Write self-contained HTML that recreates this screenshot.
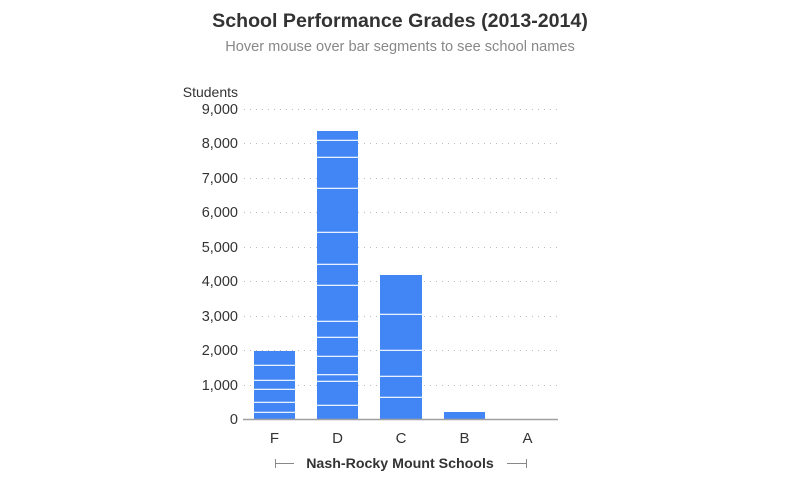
<!DOCTYPE html>
<html><head><meta charset="utf-8"><style>
html,body{margin:0;padding:0;background:#fff;width:800px;height:500px;overflow:hidden}
svg text{font-family:"Liberation Sans",Arial,sans-serif}
</style></head><body>
<svg width="800" height="500" xmlns="http://www.w3.org/2000/svg">
<text x="400" y="27" text-anchor="middle" font-size="19.6" font-weight="bold" fill="#333">School Performance Grades (2013-2014)</text>
<text x="400" y="51" text-anchor="middle" font-size="14.6" fill="#888">Hover mouse over bar segments to see school names</text>
<text x="238" y="97" text-anchor="end" font-size="14" fill="#333">Students</text>
<g stroke="#bbb" stroke-width="1" stroke-dasharray="1,5">
<line x1="244" x2="558" y1="109.5" y2="109.5"/>
<line x1="244" x2="558" y1="143.5" y2="143.5"/>
<line x1="244" x2="558" y1="178.5" y2="178.5"/>
<line x1="244" x2="558" y1="212.5" y2="212.5"/>
<line x1="244" x2="558" y1="247.5" y2="247.5"/>
<line x1="244" x2="558" y1="281.5" y2="281.5"/>
<line x1="244" x2="558" y1="316.5" y2="316.5"/>
<line x1="244" x2="558" y1="350.5" y2="350.5"/>
<line x1="244" x2="558" y1="385.5" y2="385.5"/>
</g>
<g font-size="14.5" fill="#333" text-anchor="end">
<text x="238" y="114">9,000</text>
<text x="238" y="148">8,000</text>
<text x="238" y="183">7,000</text>
<text x="238" y="217">6,000</text>
<text x="238" y="252">5,000</text>
<text x="238" y="286">4,000</text>
<text x="238" y="321">3,000</text>
<text x="238" y="355">2,000</text>
<text x="238" y="390">1,000</text>
<text x="238" y="424">0</text>
</g>
<g fill="#4285f4">
<rect x="254" y="351" width="41" height="68.5"/>
<rect x="317" y="131" width="41" height="288.5"/>
<rect x="380" y="275" width="42" height="144.5"/>
<rect x="444" y="412" width="41" height="7.5"/>
</g>
<g stroke="#fff" stroke-width="1.2">
<line x1="254" x2="295" y1="365.3" y2="365.3"/>
<line x1="254" x2="295" y1="380.3" y2="380.3"/>
<line x1="254" x2="295" y1="389.3" y2="389.3"/>
<line x1="254" x2="295" y1="402.3" y2="402.3"/>
<line x1="254" x2="295" y1="412.3" y2="412.3"/>
<line x1="317" x2="358" y1="140.3" y2="140.3"/>
<line x1="317" x2="358" y1="157.3" y2="157.3"/>
<line x1="317" x2="358" y1="188.3" y2="188.3"/>
<line x1="317" x2="358" y1="232.3" y2="232.3"/>
<line x1="317" x2="358" y1="264.3" y2="264.3"/>
<line x1="317" x2="358" y1="285.3" y2="285.3"/>
<line x1="317" x2="358" y1="321.3" y2="321.3"/>
<line x1="317" x2="358" y1="337.3" y2="337.3"/>
<line x1="317" x2="358" y1="356.3" y2="356.3"/>
<line x1="317" x2="358" y1="374.7" y2="374.7"/>
<line x1="317" x2="358" y1="381.3" y2="381.3"/>
<line x1="317" x2="358" y1="405.3" y2="405.3"/>
<line x1="380" x2="422" y1="314.3" y2="314.3"/>
<line x1="380" x2="422" y1="350.3" y2="350.3"/>
<line x1="380" x2="422" y1="376.3" y2="376.3"/>
<line x1="380" x2="422" y1="397.3" y2="397.3"/>
</g>
<line x1="243" x2="558" y1="419.5" y2="419.5" stroke="#a0a0a0" stroke-width="1.5"/>
<g font-size="15" fill="#333" text-anchor="middle">
<text x="274.5" y="443">F</text>
<text x="337.5" y="443">D</text>
<text x="401" y="443">C</text>
<text x="464.5" y="443">B</text>
<text x="527.5" y="443">A</text>
</g>
<g stroke="#888" stroke-width="1">
<line x1="275.5" x2="294" y1="463.5" y2="463.5"/>
<line x1="275.5" x2="275.5" y1="459" y2="468"/>
<line x1="507" x2="526.5" y1="463.5" y2="463.5"/>
<line x1="526.5" x2="526.5" y1="459" y2="468"/>
</g>
<text x="400" y="468" text-anchor="middle" font-size="14.2" font-weight="bold" fill="#333">Nash-Rocky Mount Schools</text>
</svg>
</body></html>
